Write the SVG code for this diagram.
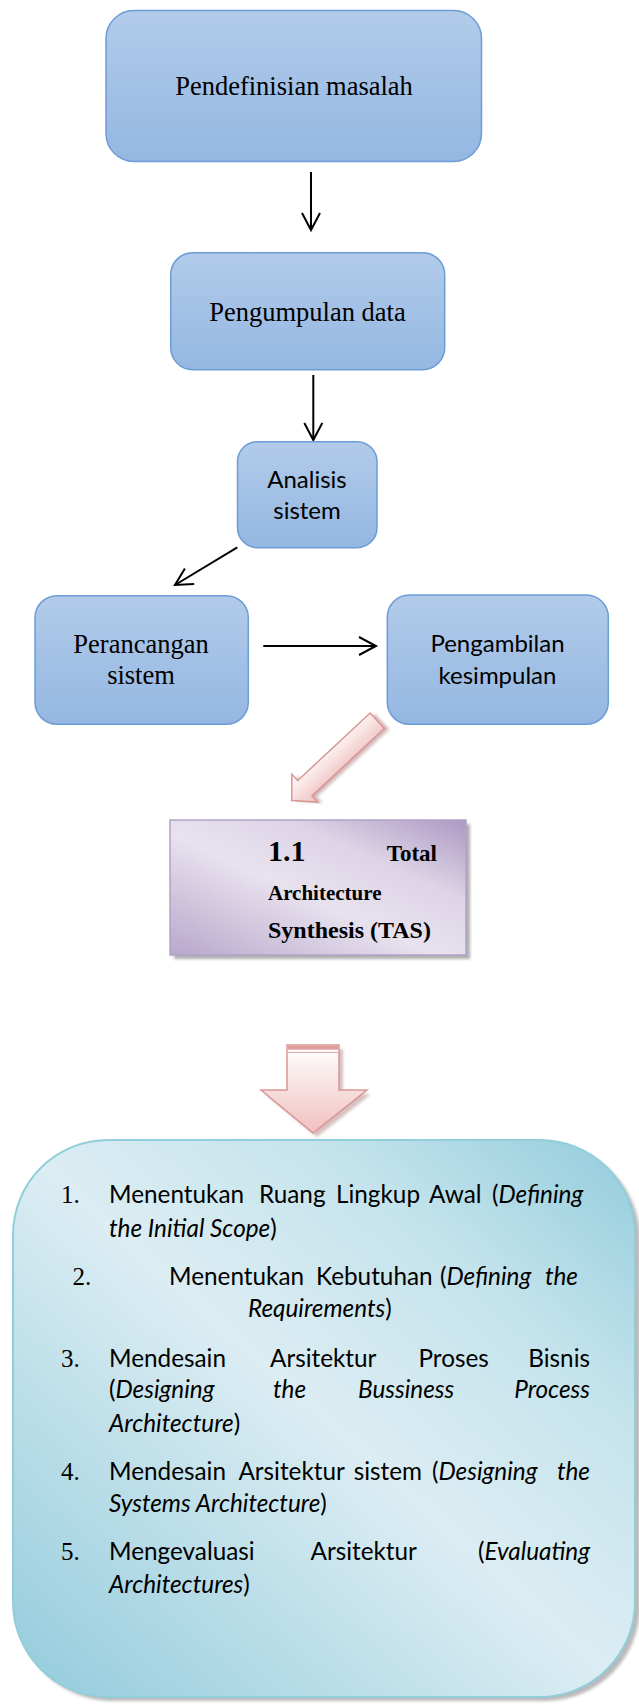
<svg xmlns="http://www.w3.org/2000/svg" width="639" height="1704" viewBox="0 0 639 1704">
<style>
.bx{stroke:#6C9DD6;stroke-width:1.5;fill:url(#gBlue)}
.ts{font-family:"Liberation Serif","Times New Roman",serif;font-size:26.5px;fill:#000;text-anchor:middle}
.tc{font-family:Lato,"Carlito","Liberation Sans",sans-serif;font-size:24px;fill:#000;text-anchor:middle}
.tb{font-family:"Liberation Serif","Times New Roman",serif;font-weight:bold;fill:#000}
.b{font-family:Lato,"Carlito","Liberation Sans",sans-serif;font-size:24.3px;fill:#000}
.n{font-family:"Liberation Serif","Times New Roman",serif;font-size:25px;fill:#000}
.i{font-style:italic}
.e{text-anchor:end}
.ln{stroke:#000;stroke-width:2;fill:none;marker-end:url(#ah)}
.pk{fill:url(#gPink);stroke:#D99694;stroke-width:1.5}
</style>
<defs>
<linearGradient id="gBlue" x1="0" y1="0" x2="0" y2="1">
<stop offset="0" stop-color="#B2CBE9"/><stop offset="1" stop-color="#94B7E2"/>
</linearGradient>
<linearGradient id="gPurple" x1="0" y1="1" x2="1" y2="0">
<stop offset="0" stop-color="#B8A7CC"/><stop offset="0.45" stop-color="#E8E2EE"/><stop offset="0.7" stop-color="#DDD4E6"/><stop offset="1" stop-color="#AC99C3"/>
</linearGradient>
<linearGradient id="gTeal" x1="0" y1="1" x2="1" y2="0">
<stop offset="0" stop-color="#92CBDC"/><stop offset="0.5" stop-color="#DCEDF3"/><stop offset="0.75" stop-color="#C4E3EC"/><stop offset="1" stop-color="#92CCDC"/>
</linearGradient>
<linearGradient id="gPink" x1="0" y1="0" x2="0" y2="1">
<stop offset="0" stop-color="#FFFFFF"/><stop offset="1" stop-color="#F0C0BF"/>
</linearGradient>
<linearGradient id="gPinkD" gradientUnits="userSpaceOnUse" x1="0" y1="-19" x2="0" y2="19">
<stop offset="0" stop-color="#EFBDBC"/><stop offset="1" stop-color="#FFFFFF"/>
</linearGradient>
<filter id="sh" x="-10%" y="-10%" width="130%" height="130%">
<feGaussianBlur stdDeviation="1.5"/>
</filter>
<marker id="ah" markerUnits="userSpaceOnUse" markerWidth="22" markerHeight="22" refX="19" refY="10" orient="auto">
<path d="M2,1 L19,10 L2,19" fill="none" stroke="#000" stroke-width="2"/>
</marker>
</defs>

<g id="connectors">
<line class="ln" x1="311" y1="172" x2="311" y2="230"/>
<line class="ln" x1="313.3" y1="375" x2="313.3" y2="440"/>
<line class="ln" x1="237.3" y1="547.3" x2="175" y2="585"/>
<line class="ln" x1="263.3" y1="646" x2="376" y2="646"/>
<g id="pinkDiag" transform="translate(377.3,720.7) rotate(137)">
<path d="M0,-10.5 H99 V-19 L117,0 L99,19 V10.5 H0 Z" transform="translate(-3,-4)" fill="#B58C8B" opacity="0.6" filter="url(#sh)"/>
<path d="M0,-10.5 H99 V-19 L117,0 L99,19 V10.5 H0 Z" fill="url(#gPinkD)" stroke="#D99694" stroke-width="1.5"/>
</g>
<g id="pinkDown">
<path d="M287,1045 H339 V1090 H367 L313,1133 L261,1090 H287 Z" transform="translate(4,4)" fill="#B58C8B" opacity="0.55" filter="url(#sh)"/>
<path class="pk" d="M287,1045 H339 V1090 H367 L313,1133 L261,1090 H287 Z"/>
<rect x="287.8" y="1045.7" width="50.4" height="4" fill="#DE9E9C"/>
<line x1="287.8" y1="1050.7" x2="338.2" y2="1050.7" stroke="#FFFFFF" stroke-width="1.5"/>
<line x1="287.8" y1="1052.4" x2="338.2" y2="1052.4" stroke="#E0A3A1" stroke-width="1"/>
</g>
</g>

<g id="n1">
<rect class="bx" x="106" y="10.5" width="375.5" height="151" rx="28"/>
<text class="ts" x="294" y="95">Pendefinisian masalah</text>
</g>
<g id="n2">
<rect class="bx" x="170.7" y="252.7" width="274" height="117" rx="22"/>
<text class="ts" x="307.5" y="321">Pengumpulan data</text>
</g>
<g id="n3">
<rect class="bx" x="237.5" y="441.7" width="139.5" height="106" rx="20"/>
<text class="tc" x="307" y="487.5">Analisis</text>
<text class="tc" x="307" y="519">sistem</text>
</g>
<g id="n4">
<rect class="bx" x="35" y="595.7" width="213.3" height="128.6" rx="22"/>
<text class="ts" x="141" y="653.3">Perancangan</text>
<text class="ts" x="141" y="684.3">sistem</text>
</g>
<g id="n5">
<rect class="bx" x="387.3" y="595" width="221" height="129.3" rx="22"/>
<text class="tc" x="497.5" y="651.7">Pengambilan</text>
<text class="tc" x="497.5" y="684.3">kesimpulan</text>
</g>
<g id="n6">
<rect x="174" y="824" width="296" height="135" fill="#8C8C8C" opacity="0.7" filter="url(#sh)"/>
<rect x="170" y="820" width="296" height="135" fill="url(#gPurple)" stroke="#B3A2C7" stroke-width="1.5"/>
<text class="tb" x="268" y="861" font-size="30">1.1</text>
<text class="tb" x="437" y="861" font-size="23" text-anchor="end">Total</text>
<text class="tb" x="268" y="900" font-size="21">Architecture</text>
<text class="tb" x="268" y="938.3" font-size="24">Synthesis (TAS)</text>
</g>
<g id="n7">
<rect x="17" y="1144" width="623" height="557" rx="95" fill="#8C8C8C" opacity="0.6" filter="url(#sh)"/>
<rect x="13" y="1140" width="622" height="557" rx="95" fill="url(#gTeal)" stroke="#92CDDC" stroke-width="2"/>
<text class="n" x="61" y="1203">1.</text>
<text class="b" y="1203"><tspan x="109">Menentukan</tspan><tspan x="259">Ruang</tspan><tspan x="336">Lingkup</tspan><tspan x="429">Awal</tspan><tspan x="492">(</tspan><tspan class="i">Defining</tspan></text>
<text class="b" y="1236.7"><tspan x="109" class="i">the Initial Scope</tspan>)</text>
<text class="n" x="72.5" y="1285">2.</text>
<text class="b" y="1285"><tspan x="169">Menentukan</tspan><tspan x="316">Kebutuhan</tspan><tspan x="440">(</tspan><tspan class="i">Defining</tspan><tspan x="578" class="e i">the</tspan></text>
<text class="b" y="1316.7"><tspan x="248" class="i">Requirements</tspan>)</text>
<text class="n" x="61" y="1366.7">3.</text>
<text class="b" y="1366.7"><tspan x="109">Mendesain</tspan><tspan x="270">Arsitektur</tspan><tspan x="418.5">Proses</tspan><tspan x="590" class="e">Bisnis</tspan></text>
<text class="b" y="1398.3"><tspan x="109">(</tspan><tspan class="i">Designing</tspan><tspan x="273" class="i">the</tspan><tspan x="358" class="i">Bussiness</tspan><tspan x="590" class="e i">Process</tspan></text>
<text class="b" y="1431.7"><tspan x="109" class="i">Architecture</tspan>)</text>
<text class="n" x="61" y="1480">4.</text>
<text class="b" y="1480"><tspan x="109">Mendesain</tspan><tspan x="238.4">Arsitektur</tspan><tspan x="353.7">sistem</tspan><tspan x="432">(</tspan><tspan class="i">Designing</tspan><tspan x="590" class="e i">the</tspan></text>
<text class="b" y="1511.7"><tspan x="109" class="i">Systems Architecture</tspan>)</text>
<text class="n" x="61" y="1560">5.</text>
<text class="b" y="1560"><tspan x="109">Mengevaluasi</tspan><tspan x="310.5">Arsitektur</tspan><tspan x="590" class="e">(</tspan><tspan class="i">Evaluating</tspan></text>
<text class="b" y="1593.3"><tspan x="109" class="i">Architectures</tspan>)</text>
</g>
</svg>
